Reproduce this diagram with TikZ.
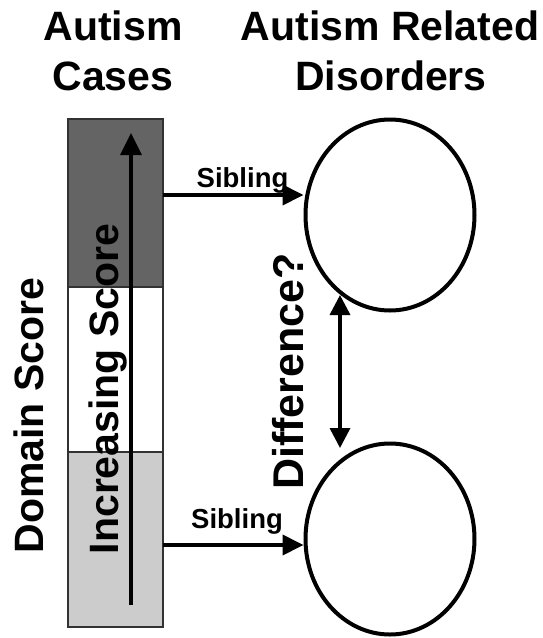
\documentclass[tikz,border=0pt]{standalone}
\usepackage{fontspec}
\setmainfont{Liberation Sans}
\usetikzlibrary{arrows.meta,shapes.geometric}
\definecolor{darkfill}{RGB}{100,100,100}
\definecolor{lightfill}{RGB}{204,204,204}
\definecolor{edgegray}{RGB}{50,50,50}
\begin{document}
\begin{tikzpicture}[x=1pt,y=-1pt,
  title/.style={font=\bfseries\fontsize{41}{50}\selectfont, anchor=base, inner sep=0pt},
  vlabel/.style={font=\bfseries\fontsize{41}{50}\selectfont, anchor=base, rotate=90, inner sep=0pt},
  siblab/.style={font=\bfseries\fontsize{27.5}{32}\selectfont, anchor=base, inner sep=0pt},
  seg/.style={draw=edgegray, line width=1.5pt, minimum width=95pt, inner sep=0pt, outer sep=0pt},
  oval/.style={draw=black, line width=4pt, ellipse, minimum width=169pt, minimum height=191pt, inner sep=0pt},
  arr/.style={line width=4pt, -{Triangle[length=21pt,width=20pt]}},
  dbl/.style={line width=3.5pt, {Triangle[length=20pt,width=20pt]}-{Triangle[length=20pt,width=20pt]}},
  incarr/.style={line width=3.5pt, -{Triangle[length=22pt,width=21pt]}}
]
\useasboundingbox (0,0) rectangle (543,638);
\fill[white] (0,0) rectangle (543,638);

% titles
\node[title] (t1) at (113,40) {Autism};
\node[title] (t2) at (113,90) {Cases};
\node[title] (t3) at (390,40) {Autism Related};
\node[title] (t4) at (391,90) {Disorders};

% score bar
\node[seg, fill=darkfill, minimum height=168pt] (dark) at (115.5,203) {};
\node[seg, fill=white, minimum height=165pt] (mid) at (115.5,369.5) {};
\node[seg, fill=lightfill, minimum height=175pt] (light) at (115.5,539.5) {};

% rotated labels
\node[vlabel] (dom) at (43,415.5) {Domain Score};
\node[vlabel] (inc) at (118,389) {Increasing Score};

% increasing arrow
\coordinate (i1) at (131,605);
\coordinate (i2) at (131,133);
\draw[incarr] (i1) -- (i2);

% ellipses
\node[oval] (up) at (390,215) {};
\node[oval] (low) at (390,539) {};

% sibling arrows
\draw[arr] (dark.east |- 0,195) -- (up.west |- 0,195);
\node[siblab] (s1) at (242.5,187) {Sibling};
\draw[arr] (light.east |- 0,545) -- (low.west |- 0,545);
\node[siblab] (s2) at (237,528) {Sibling};

% difference
\coordinate (d1) at (340,295);
\coordinate (d2) at (340,448);
\draw[dbl] (d1) -- (d2);
\node[vlabel, font=\bfseries\fontsize{43}{50}\selectfont] (diff) at (303,371.5) {Difference?};
\end{tikzpicture}
\end{document}
